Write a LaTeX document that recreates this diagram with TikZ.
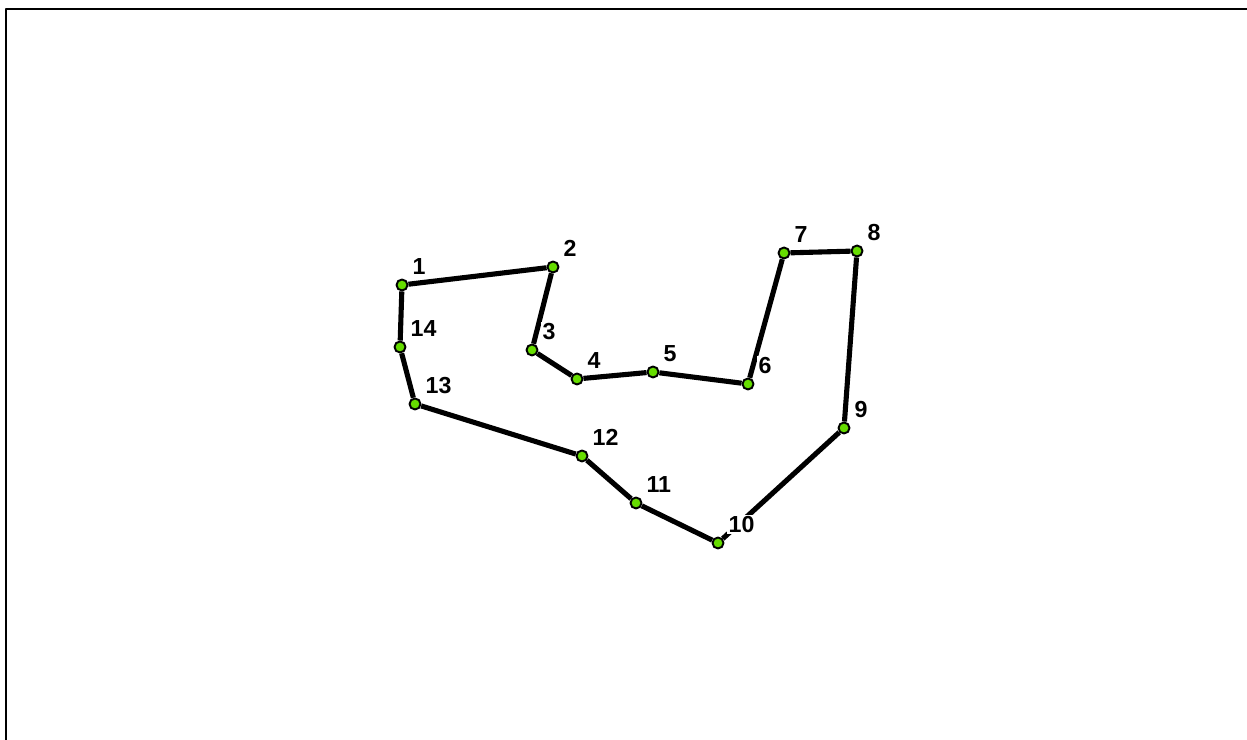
\documentclass[tikz,border=0pt]{standalone}
\usepackage{fontspec}
\setmainfont{Liberation Sans}
\usetikzlibrary{calc,backgrounds}
\definecolor{ink}{HTML}{000000}
\definecolor{vgreen}{HTML}{66DD00}
\tikzset{
  every picture/.style={line cap=round, line join=round},
  vtx/.style={circle, fill=vgreen, draw=ink, line width=0.55pt, inner sep=0pt,
    minimum size=1.1mm},
  link/.style={draw=ink, line width=1.45pt},
  tlbl/.style={font=\fontsize{6.6}{7.8}\selectfont\bfseries, text=ink, fill=white,
    inner sep=0.4pt, anchor=south west},
  frame/.style={draw=ink, line width=0.8pt, line cap=butt},
}
\begin{document}
\begin{tikzpicture}
  \useasboundingbox (0,0) rectangle (12.47,-7.40);
  % ---------------- frame (top and left edges) ----------------
  \draw[frame] (0.06,-7.40) -- (0.06,-0.09) -- (12.47,-0.09);

  % ---------------- polygon vertices ----------------
  \foreach \n/\x/\y in {1/4.02/-2.85, 2/5.53/-2.67, 3/5.32/-3.50, 4/5.77/-3.79,
      5/6.53/-3.72, 6/7.48/-3.84, 7/7.84/-2.53, 8/8.57/-2.51, 9/8.44/-4.28,
      10/7.18/-5.43, 11/6.36/-5.03, 12/5.82/-4.56, 13/4.15/-4.04, 14/4.00/-3.47}{
    \node[vtx] (p\n) at (\x,\y) {};
    \node[tlbl] (l\n) at ($(p\n)+(0.085,0.08)$) {\n};
  }

  % ---------------- polygon edges ----------------
  \begin{scope}[on background layer]
    \foreach \a/\b in {1/2, 2/3, 3/4, 4/5, 5/6, 6/7, 7/8, 8/9, 9/10, 10/11,
        11/12, 12/13, 13/14, 14/1}
      \draw[link] (p\a) -- (p\b);
  \end{scope}
\end{tikzpicture}
\end{document}
